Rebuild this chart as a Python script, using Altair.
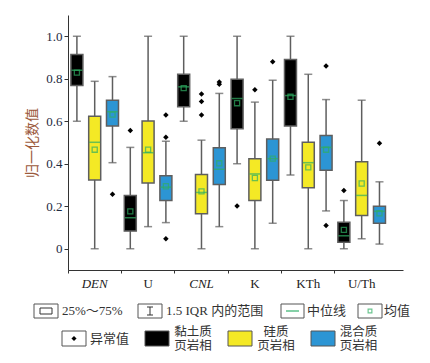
import altair as alt
import pandas as pd

# ---------------- data ----------------
groups = ["DEN", "U", "CNL", "K", "KTh", "U/Th"]
facies = ["黏土质页岩相", "硅质页岩相", "混合质页岩相"]
facies_colors = ["#000000", "#f4e925", "#2c95d4"]

# box statistics, group-major: (clay, siliceous, mixed) for each group
lower = [0.600, 0.000, 0.405,
         0.000, 0.104, 0.123,
         0.600, 0.000, 0.104,
         0.400, 0.000, 0.120,
         0.347, 0.000, 0.178,
         0.000, 0.047, 0.022]
q1 = [0.768, 0.324, 0.578,
      0.083, 0.310, 0.227,
      0.668, 0.165, 0.302,
      0.565, 0.227, 0.322,
      0.578, 0.287, 0.369,
      0.031, 0.156, 0.120]
median = [0.840, 0.501, 0.645,
          0.146, 0.452, 0.290,
          0.762, 0.265, 0.374,
          0.707, 0.352, 0.424,
          0.721, 0.405, 0.477,
          0.061, 0.251, 0.176]
q3 = [0.914, 0.623, 0.699,
      0.251, 0.601, 0.343,
      0.821, 0.350, 0.475,
      0.798, 0.424, 0.516,
      0.891, 0.501, 0.533,
      0.125, 0.410, 0.200]
upper = [1.000, 0.788, 0.810,
         0.477, 1.000, 0.506,
         1.000, 0.511, 0.731,
         1.000, 0.690, 0.793,
         1.000, 0.821, 0.702,
         0.227, 0.699, 0.315]
mean = [0.829, 0.466, 0.631,
        0.176, 0.466, 0.294,
        0.756, 0.270, 0.402,
        0.685, 0.333, 0.424,
        0.715, 0.383, 0.466,
        0.089, 0.307, 0.167]

# outliers
out_group = ["DEN", "U", "U", "U", "U", "CNL", "CNL", "CNL", "CNL", "CNL",
             "K", "K", "K", "KTh", "KTh", "U/Th", "U/Th"]
out_facies_idx = [2, 0, 2, 2, 2, 1, 1, 1, 2, 2, 0, 1, 2, 2, 2, 0, 2]
out_value = [0.257, 0.556, 0.629, 0.525, 0.047, 0.728, 0.693, 0.629, 0.785,
             0.774, 0.201, 0.748, 0.880, 0.860, 0.109, 0.274, 0.497]

y_ticks = [0, 0.2, 0.4, 0.6, 0.8, 1.0]
y_title = "归一化数值"
legend_row1_labels = ["25%～75%", "1.5 IQR 内的范围", "中位线", "均值"]
legend_outlier_label = "异常值"
legend_facies_line1 = ["黏土质", "硅质", "混合质"]
legend_facies_line2 = ["页岩相", "页岩相", "页岩相"]

# ---------------- tables ----------------
rows = []
for gi, g in enumerate(groups):
    for fi, f in enumerate(facies):
        k = gi * 3 + fi
        rows.append(dict(group=g, facies=f, lower=lower[k], q1=q1[k],
                         median=median[k], q3=q3[k], upper=upper[k], mean=mean[k]))
box_df = pd.DataFrame(rows)
out_df = pd.DataFrame(dict(group=out_group,
                           facies=[facies[i] for i in out_facies_idx],
                           value=out_value))

# ---------------- layout ----------------
W, H = 335, 255
PAD = {"left": 60, "top": 7, "right": 19, "bottom": 92}
OX, OY = 8 + PAD["left"], 8 + PAD["top"]   # page position of plot origin

SERIF = "Liberation Serif"
CJK = "Liberation Serif, Noto Sans CJK SC"
GREEN = "#2fae63"
GREY = "#5e5e5e"
AX = "#333333"

x_enc = alt.X("group:N", sort=groups,
              scale=alt.Scale(domain=groups, paddingInner=0, paddingOuter=0.137, align=0),
              axis=alt.Axis(title=None, labelAngle=0, bandPosition=0, tickExtra=False,
                            tickSize=3, tickColor=AX, domainColor=AX, labelPadding=4,
                            labelFont=SERIF, labelFontSize=13, labelColor="#222222",
                            labelFontStyle={"condition": {"test": "datum.value === 'DEN' || datum.value === 'CNL'",
                                                          "value": "italic"},
                                            "value": "normal"}))
xo_enc = alt.XOffset("facies:N", sort=facies,
                     scale=alt.Scale(domain=facies, paddingInner=0, paddingOuter=0))
yscale = alt.Scale(domain=[-0.1, 1.1], nice=False, zero=False)
yaxis = alt.Axis(title=y_title, values=y_ticks, grid=False,
                 labelExpr="datum.value == 0 ? '0' : format(datum.value, '.1f')",
                 tickSize=4, tickColor=AX, domainColor=AX, labelPadding=2,
                 labelFont=SERIF, labelFontSize=13, labelColor="#1e2a40",
                 titleFont="Noto Sans CJK SC", titleFontSize=14, titleFontWeight="normal",
                 titleColor="#9c5a3c", titlePadding=6)


def Y(field):
    return alt.Y(field, type="quantitative", scale=yscale, axis=yaxis)


base = alt.Chart(box_df)
whisker = base.mark_rule(color=GREY, strokeWidth=1.5).encode(
    x=x_enc, xOffset=xo_enc, y=Y("lower"), y2="upper")
cap_lo = base.mark_tick(color=GREY, size=8, thickness=1.5).encode(
    x=x_enc, xOffset=xo_enc, y=Y("lower"))
cap_hi = base.mark_tick(color=GREY, size=8, thickness=1.5).encode(
    x=x_enc, xOffset=xo_enc, y=Y("upper"))
box = base.mark_bar(width=12, stroke=GREY, strokeWidth=1.5).encode(
    x=x_enc, xOffset=xo_enc, y=Y("q1"), y2="q3",
    color=alt.Color("facies:N", sort=facies,
                    scale=alt.Scale(domain=facies, range=facies_colors), legend=None))
med = base.mark_tick(color=GREEN, size=11, thickness=1.5).encode(
    x=x_enc, xOffset=xo_enc, y=Y("median"))
mn = base.mark_point(shape="square", size=26, filled=False, color=GREEN, strokeWidth=1.3).encode(
    x=x_enc, xOffset=xo_enc, y=Y("mean"))
outl = alt.Chart(out_df).mark_point(shape="diamond", filled=True, color="black", size=30,
                                    opacity=1).encode(
    x=x_enc, xOffset=xo_enc, y=Y("value"))

# ---------------- custom legend (pixel layout) ----------------
def px(v):
    return v - OX


def py(v):
    return v - OY


LX = lambda f: alt.X(f, type="quantitative", scale=None, axis=None)
LY = lambda f: alt.Y(f, type="quantitative", scale=None, axis=None)

frames_page = [(34, 58, 304, 318), (138, 162, 304, 318), (281, 304, 304, 318),
               (358, 382, 304, 318), (62, 86, 331, 346)]
frames_df = pd.DataFrame([dict(x=px(a), x2=px(b), y=py(c), y2=py(d)) for a, b, c, d in frames_page])
frames = alt.Chart(frames_df).mark_rect(fill="white", stroke="#555555", strokeWidth=1).encode(
    x=LX("x"), x2="x2", y=LY("y"), y2="y2")

inner_df = pd.DataFrame([dict(x=px(40), x2=px(52), y=py(308), y2=py(314))])
inner = alt.Chart(inner_df).mark_rect(fill="white", stroke="#333333", strokeWidth=1).encode(
    x=LX("x"), x2="x2", y=LY("y"), y2="y2")

ibar_df = pd.DataFrame([
    dict(x=px(150), x2=px(150), y=py(307), y2=py(315)),
    dict(x=px(147), x2=px(153), y=py(307), y2=py(307)),
    dict(x=px(147), x2=px(153), y=py(315), y2=py(315)),
])
ibar = alt.Chart(ibar_df).mark_rule(color="#333333", strokeWidth=1).encode(
    x=LX("x"), x2="x2", y=LY("y"), y2="y2")

medline_df = pd.DataFrame([dict(x=px(286), x2=px(299), y=py(311), y2=py(311))])
medline = alt.Chart(medline_df).mark_rule(color="#5cc08a", strokeWidth=1.5).encode(
    x=LX("x"), x2="x2", y=LY("y"), y2="y2")

msq_df = pd.DataFrame([dict(x=px(370), y=py(311))])
msq = alt.Chart(msq_df).mark_point(shape="square", size=14, filled=False, color=GREEN,
                                   strokeWidth=1.2).encode(x=LX("x"), y=LY("y"))

dia_df = pd.DataFrame([dict(x=px(74), y=py(338.5))])
dia = alt.Chart(dia_df).mark_point(shape="diamond", size=26, filled=True, color="black",
                                   opacity=1).encode(x=LX("x"), y=LY("y"))

sw_page = [(145, 169), (228, 252), (311, 335)]
sw_df = pd.DataFrame([dict(x=px(a), x2=px(b), y=py(331), y2=py(346), facies=facies[i])
                      for i, (a, b) in enumerate(sw_page)])
swatches = alt.Chart(sw_df).mark_rect(stroke="#555555", strokeWidth=1).encode(
    x=LX("x"), x2="x2", y=LY("y"), y2="y2",
    color=alt.Color("facies:N", sort=facies,
                    scale=alt.Scale(domain=facies, range=facies_colors), legend=None))

t_left_df = pd.DataFrame(
    [dict(x=px(a), y=py(311), t=t) for a, t in zip([62, 166, 307, 384], legend_row1_labels)]
    + [dict(x=px(90), y=py(339), t=legend_outlier_label)])
t_left = alt.Chart(t_left_df).mark_text(align="left", baseline="middle", font=CJK,
                                        fontSize=13, color="#333333").encode(
    x=LX("x"), y=LY("y"), text="t:N")

fac_cx = [193, 276, 358.5]
t_fac_df = pd.DataFrame([dict(x=px(a), y=py(331.5), t=t) for a, t in zip(fac_cx, legend_facies_line1)]
                        + [dict(x=px(a), y=py(346), t=t) for a, t in zip(fac_cx, legend_facies_line2)])
t_fac = alt.Chart(t_fac_df).mark_text(align="center", baseline="middle", font=CJK,
                                      fontSize=12.5, color="#333333").encode(
    x=LX("x"), y=LY("y"), text="t:N")

chart = alt.layer(
    whisker, cap_lo, cap_hi, box, med, mn, outl,
    frames, inner, ibar, medline, msq, dia, swatches, t_left, t_fac
).properties(
    width=W, height=H,
    autosize=alt.AutoSizeParams(type="none"),
    padding=PAD,
    background="white",
).configure_view(stroke=None)

chart.save("out.html", embed_options={"renderer": "svg", "actions": False})
